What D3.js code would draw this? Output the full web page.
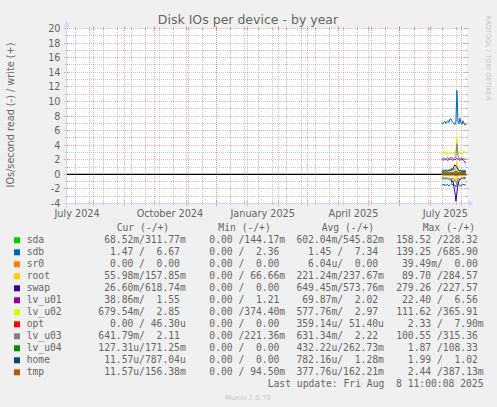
<!DOCTYPE html>
<html><head><meta charset="utf-8">
<script src="https://cdn.jsdelivr.net/npm/d3@7"></script>
<style>
html,body{margin:0;padding:0;background:#F0F0F0;}
svg{display:block;}
text{font-family:"DejaVu Sans",sans-serif;fill:#666666;}
.mono{font-family:"DejaVu Sans Mono",monospace;white-space:pre;}
</style>
</head><body>
<svg id="chart" width="497" height="407"></svg>
<script>
// ---------- data ----------
const title = "Disk IOs per device - by year";
const yLabel = "IOs/second read (-) / write (+)";
const yTicks = [-4,-2,0,2,4,6,8,10,12,14,16,18,20];
const xLabelMonths = ["2024-07-01","2024-10-01","2025-01-01","2025-04-01","2025-07-01"];
const xLabels = ["July 2024","October 2024","January 2025","April 2025","July 2025"];
const dates = ["2025-07-12","2025-07-13","2025-07-14","2025-07-15","2025-07-16","2025-07-17","2025-07-18","2025-07-19","2025-07-20","2025-07-21","2025-07-22","2025-07-23","2025-07-24","2025-07-25","2025-07-26","2025-07-27","2025-07-28","2025-07-29","2025-07-30","2025-07-31","2025-08-01","2025-08-02","2025-08-03","2025-08-04","2025-08-05"];

const names  = ["sda","sdb","sr0","root","swap","lv_u01","lv_u02","opt","lv_u03","lv_u04","home","tmp"];
const colors = ["#00CC00","#0066B3","#FF8000","#FFCC00","#330099","#990099","#CCFF00","#FF0000","#808080","#008F00","#00487D","#B35A00"];

const sdaRead   = [0.55,0.62,0.48,0.70,0.58,0.52,0.66,0.60,0.74,0.57,0.63,0.50,0.69,0.81,0.95,0.72,0.60,0.54,0.66,0.58,0.49,0.61,0.56,0.64,0.52];
const sdaWrite  = [0.52,0.60,0.45,0.66,0.55,0.48,0.63,0.58,0.70,0.54,0.61,0.47,0.65,0.78,0.88,0.96,0.62,0.50,0.59,0.55,0.46,0.57,0.53,0.60,0.49];
const sdbRead   = [1.42,1.50,1.33,1.58,1.41,1.47,1.39,1.62,1.52,1.38,1.30,1.48,1.57,1.44,1.72,1.55,1.33,1.40,1.51,1.63,1.43,1.31,1.49,1.39,1.50];
const sdbWrite  = [7.02,6.90,7.15,7.28,6.98,7.20,7.36,7.12,7.55,7.62,7.32,7.10,7.00,6.82,7.18,11.50,7.30,6.92,7.70,7.05,6.85,7.35,7.02,6.75,6.92];
const sr0Read   = [0,0,0,0,0,0,0,0,0,0,0,0,0,0,0,0,0,0,0,0,0,0,0,0,0];
const sr0Write  = [0,0,0,0,0,0,0,0,0,0,0,0,0,0,0,0,0,0,0,0,0,0,0,0,0];
const rootRead  = [0.18,0.22,0.15,0.25,0.20,0.17,0.23,0.19,0.28,0.21,0.24,0.16,0.26,0.35,1.15,0.62,0.22,0.18,0.21,0.19,0.16,0.23,0.20,0.24,0.18];
const rootWrite = [0.22,0.26,0.19,0.28,0.24,0.21,0.27,0.23,0.31,0.25,0.27,0.20,0.29,0.40,0.85,1.75,0.30,0.22,0.25,0.23,0.20,0.26,0.24,0.27,0.21];
const swapRead  = [0.45,0.55,0.42,0.62,0.50,0.47,0.58,0.52,0.70,0.64,1.10,0.85,1.65,2.40,3.70,2.55,1.45,0.88,0.62,0.70,0.48,0.58,0.40,0.50,0.55];
const swapWrite = [0.40,0.48,0.36,0.55,0.44,0.41,0.50,0.46,0.60,0.55,0.82,0.66,1.05,1.30,1.15,0.95,0.70,0.52,0.45,0.50,0.38,0.47,0.34,0.42,0.46];
const lvu01Read = [0.06,0.07,0.05,0.08,0.07,0.06,0.07,0.06,0.09,0.07,0.08,0.06,0.07,0.10,0.14,0.11,0.07,0.06,0.07,0.06,0.05,0.07,0.06,0.08,0.06];
const lvu01Write= [2.00,2.02,1.92,2.05,2.10,1.98,1.90,2.03,2.00,2.12,2.02,1.93,2.00,2.08,2.02,2.22,2.10,2.00,1.92,2.03,2.10,1.98,1.88,1.62,1.52];
const lvu02Read = [0.52,0.58,0.48,0.63,0.55,0.50,0.60,0.56,0.66,0.57,0.61,0.49,0.64,0.72,0.90,1.10,0.62,0.53,0.58,0.55,0.47,0.59,0.52,0.60,0.50];
const lvu02Write= [2.90,3.02,3.20,2.80,2.92,3.05,2.72,2.90,3.12,2.82,3.00,2.88,3.10,2.80,3.30,5.00,3.20,2.70,2.92,3.10,2.80,3.02,3.22,2.90,3.00];
const optRead   = [0,0,0,0,0,0,0,0,0,0,0,0,0,0,0.002,0.001,0,0,0,0,0,0,0,0,0];
const optWrite  = [0,0,0,0,0,0,0,0,0,0,0,0,0,0,0,0,0,0,0,0,0,0,0,0,0];
const lvu03Read = [0.58,0.64,0.52,0.68,0.60,0.56,0.66,0.61,0.72,0.62,0.67,0.54,0.70,0.80,1.00,1.45,0.68,0.58,0.63,0.60,0.52,0.64,0.57,0.66,0.55];
const lvu03Write= [2.20,2.10,2.30,2.20,2.02,2.22,2.32,2.10,2.20,2.40,2.20,2.12,2.30,2.20,2.50,4.20,2.60,2.20,2.10,2.22,2.30,2.10,2.20,2.02,2.18];
const lvu04Read = [0,0,0,0,0,0,0,0,0,0,0,0,0,0,0.002,0.001,0,0,0,0,0,0,0,0,0];
const lvu04Write= [0.24,0.28,0.22,0.30,0.26,0.23,0.29,0.25,0.32,0.27,0.29,0.22,0.31,0.36,0.45,0.40,0.28,0.24,0.27,0.25,0.22,0.28,0.25,0.29,0.23];
const homeRead  = [0,0,0,0,0,0,0,0,0,0,0,0,0,0,0.002,0.001,0,0,0,0,0,0,0,0,0];
const homeWrite = [0,0,0,0,0,0,0,0,0,0,0,0,0,0,0.003,0.002,0,0,0,0,0,0,0,0,0];
const tmpRead   = [0,0,0,0,0,0,0,0,0,0,0,0,0,0,0.001,0,0,0,0,0,0,0,0,0,0];
const tmpWrite  = [0.15,0.18,0.13,0.19,0.16,0.14,0.18,0.16,0.20,0.17,0.18,0.14,0.19,0.22,0.28,0.25,0.17,0.15,0.17,0.16,0.13,0.18,0.15,0.18,0.14];

const readSeries  = [sdaRead,sdbRead,sr0Read,rootRead,swapRead,lvu01Read,lvu02Read,optRead,lvu03Read,lvu04Read,homeRead,tmpRead];
const writeSeries = [sdaWrite,sdbWrite,sr0Write,rootWrite,swapWrite,lvu01Write,lvu02Write,optWrite,lvu03Write,lvu04Write,homeWrite,tmpWrite];

const legendHeader = ["Cur (-/+)","Min (-/+)","Avg (-/+)","Max (-/+)"];
const legendCur = [" 68.52m/311.77m","  1.47 /  6.67 ","  0.00 /  0.00 "," 55.98m/157.85m"," 26.60m/618.74m"," 38.86m/  1.55 ","679.54m/  2.85 ","  0.00 / 46.30u","641.79m/  2.11 ","127.31u/171.25m"," 11.57u/787.04u"," 11.57u/156.38m"];
const legendMin = ["  0.00 /144.17m","  0.00 /  2.36 ","  0.00 /  0.00 ","  0.00 / 66.66m","  0.00 /  0.00 ","  0.00 /  1.21 ","  0.00 /374.40m","  0.00 /  0.00 ","  0.00 /221.36m","  0.00 /  0.00 ","  0.00 /  0.00 ","  0.00 / 94.50m"];
const legendAvg = ["602.04m/545.82m","  1.45 /  7.34 ","  6.04u/  0.00 ","221.24m/237.67m","649.45m/573.76m"," 69.87m/  2.02 ","577.76m/  2.97 ","359.14u/ 51.40u","631.34m/  2.22 ","432.22u/262.73m","782.16u/  1.28m","377.76u/162.21m"];
const legendMax = ["158.52 /228.32 ","139.25 /685.90 "," 39.49m/  0.00 "," 89.70 /284.57 ","279.26 /227.57 "," 22.40 /  6.56 ","111.62 /365.91 ","  2.33 /  7.90m","100.55 /315.36 ","  1.87 /108.33 ","  1.99 /  1.02 ","  2.44 /387.13m"];
const lastUpdate = "Last update: Fri Aug  8 11:00:08 2025";
const watermark = "Munin 2.0.75";
const sideText = "RRDTOOL / TOBI OETIKER";

// ---------- drawing ----------
const svg = d3.select("#chart");
const X0 = 66.5, X1 = 466.5, YB = 203.5, YT = 28.5;
const parse = d3.utcParse("%Y-%m-%d");
const tStart = new Date(Date.UTC(2024,6,5,12)), tEnd = new Date(Date.UTC(2025,7,6,0));
const x = d3.scaleUtc().domain([tStart,tEnd]).range([X0,X1]);
const y = d3.scaleLinear().domain([-4,20]).range([YB,YT]);

svg.append("rect").attr("x",0).attr("y",0).attr("width",497).attr("height",407).attr("fill","#F0F0F0");
svg.append("rect").attr("x",66).attr("y",28).attr("width",401).attr("height",176).attr("fill","#FFFFFF");

const grid = svg.append("g").attr("shape-rendering","crispEdges");
const minorCol = "rgba(143,143,143,0.5)", majorCol = "rgba(222,79,79,0.42)";
// horizontal grid
d3.range(-4,21,1).forEach(v=>{
  const major = v % 2 === 0;
  const col = major ? majorCol : minorCol;
  const yy = Math.round(y(v)-0.5)+0.5;
  grid.append("line").attr("x1",67).attr("x2",467).attr("y1",yy).attr("y2",yy)
    .attr("stroke",col).attr("stroke-width",1).attr("stroke-dasharray","1,1");
  const t = major?2:1;
  grid.append("line").attr("x1",66-t).attr("x2",67+t).attr("y1",yy).attr("y2",yy).attr("stroke",col);
  grid.append("line").attr("x1",466-t).attr("x2",467+t).attr("y1",yy).attr("y2",yy).attr("stroke",col);
});
// vertical minor grid (every second Sunday)
d3.utcSunday.range(new Date(Date.UTC(2024,6,14)), tEnd, 2).forEach(d=>{
  const xx = Math.round(x(d)-0.5)+0.5;
  grid.append("line").attr("x1",xx).attr("x2",xx).attr("y1",203).attr("y2",28)
    .attr("stroke",minorCol).attr("stroke-dasharray","1,1");
  grid.append("line").attr("x1",xx).attr("x2",xx).attr("y1",202).attr("y2",205).attr("stroke",minorCol);
  grid.append("line").attr("x1",xx).attr("x2",xx).attr("y1",27).attr("y2",30).attr("stroke",minorCol);
});
// vertical major grid (months)
d3.utcMonth.range(tStart, tEnd).forEach(d=>{
  const xx = Math.round(x(d)-0.5)+0.5;
  grid.append("line").attr("x1",xx).attr("x2",xx).attr("y1",203).attr("y2",28)
    .attr("stroke",majorCol).attr("stroke-dasharray","1,1");
  grid.append("line").attr("x1",xx).attr("x2",xx).attr("y1",201).attr("y2",206).attr("stroke",majorCol);
  grid.append("line").attr("x1",xx).attr("x2",xx).attr("y1",26).attr("y2",31).attr("stroke",majorCol);
});

// y tick labels
yTicks.forEach(v=>{
  svg.append("text").attr("x",60.5).attr("y",y(v)+3.5).attr("text-anchor","end")
    .attr("font-size","9.7px").text(v);
});
// x labels (centered half a month after the month start)
xLabelMonths.forEach((m,i)=>{
  const d = d3.utcDay.offset(parse(m),15);
  svg.append("text").attr("x",x(d)).attr("y",216.5).attr("text-anchor","middle")
    .attr("font-size","9.7px").text(xLabels[i]);
});

// zero line
svg.append("line").attr("x1",X0).attr("x2",X1).attr("y1",y(0)).attr("y2",y(0))
  .attr("stroke","#000").attr("stroke-width",1.2);

// data lines
const line = d3.line().x(d=>x(d[0])).y(d=>y(d[1]));
const pts = dates.map(s=>new Date(parse(s).getTime()+12*3600e3));
names.forEach((n,i)=>{
  svg.append("path").attr("d", line(pts.map((p,k)=>[p,-readSeries[i][k]])))
    .attr("fill","none").attr("stroke",colors[i]).attr("stroke-width",1);
  svg.append("path").attr("d", line(pts.map((p,k)=>[p,writeSeries[i][k]])))
    .attr("fill","none").attr("stroke",colors[i]).attr("stroke-width",1);
});

// axes
const axisCol = "#CFD6F8";
svg.append("line").attr("x1",X0-4).attr("x2",X1+4).attr("y1",YB).attr("y2",YB).attr("stroke",axisCol);
svg.append("line").attr("x1",X0).attr("x2",X0).attr("y1",YB+4).attr("y2",YT-4).attr("stroke",axisCol);
svg.append("path").attr("d",`M${X1+2},${YB-3}L${X1+7},${YB}L${X1+2},${YB+3}Z`).attr("fill",axisCol);
svg.append("path").attr("d",`M${X0-3},${YT-2}L${X0},${YT-7}L${X0+3},${YT-2}Z`).attr("fill",axisCol);

// title & axis label
svg.append("text").attr("x",248).attr("y",23.5).attr("text-anchor","middle")
  .attr("font-size","12.5px").text(title);
svg.append("text").attr("transform","translate(14,115) rotate(-90)").attr("text-anchor","middle")
  .attr("font-size","9.7px").text(yLabel);
svg.append("text").attr("transform","translate(485.5,58) rotate(90)").attr("text-anchor","middle")
  .attr("font-size","6.6px").style("fill","#c4c4c4").text(sideText);

// legend
const colX = [98.3,197.7,296.4,396.2];
const headX = [116.7,218.3,321.7,422.7];
legendHeader.forEach((h,j)=>{
  svg.append("text").attr("class","mono").attr("x",headX[j]).attr("y",231.3)
    .attr("font-size","9.7px").text(h);
});
const cols = [legendCur,legendMin,legendAvg,legendMax];
names.forEach((n,i)=>{
  const by = 243.3 + 12*i;
  svg.append("rect").attr("x",14).attr("y",by-6).attr("width",6).attr("height",6).attr("fill",colors[i]);
  svg.append("text").attr("class","mono").attr("x",26.7).attr("y",by).attr("font-size","9.7px").text(n);
  cols.forEach((c,j)=>{
    svg.append("text").attr("class","mono").attr("x",colX[j]).attr("y",by)
      .attr("font-size","9.7px").attr("xml:space","preserve").text(c[i]);
  });
});
svg.append("text").attr("class","mono").attr("x",483.5).attr("y",387.3).attr("text-anchor","end")
  .attr("font-size","9.7px").text(lastUpdate);
svg.append("text").attr("x",248).attr("y",399.5).attr("text-anchor","middle")
  .attr("font-size","7px").style("fill","#c8c8c8").text(watermark);
</script>
</body></html>
